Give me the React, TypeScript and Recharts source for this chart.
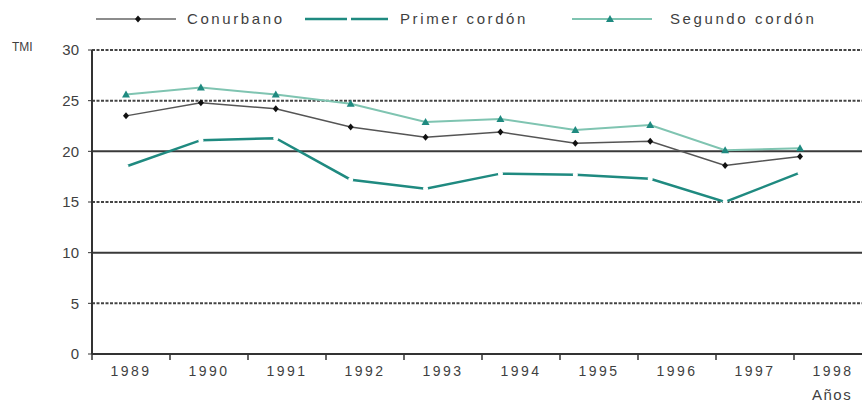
import React from 'react';
import { LineChart, Line, XAxis, YAxis, ReferenceLine } from 'recharts';

const years = ['1989', '1990', '1991', '1992', '1993', '1994', '1995', '1996', '1997', '1998'];
const conurbano = [23.5, 24.8, 24.2, 22.4, 21.4, 21.9, 20.8, 21.0, 18.6, 19.5];
const primerCordon = [18.5, 21.1, 21.3, 17.2, 16.3, 17.8, 17.7, 17.3, 15.0, 17.9];
const segundoCordon = [25.6, 26.3, 25.6, 24.7, 22.9, 23.2, 22.1, 22.6, 20.1, 20.3];

const yTicks = [0, 5, 10, 15, 20, 25, 30];
const solidLevels = [10, 20];
const dashedLevels = [5, 15, 25, 30];

const rows = years.map((year, i) => ({
  year,
  conurbano: conurbano[i],
  primer: primerCordon[i],
  segundo: segundoCordon[i],
}));

const FONT = '"Liberation Sans", Arial, sans-serif';
const TEXT = '#3f3f3f';
const AXIS = '#333';
const TEAL = '#1f8a80';
const PALE = '#7fc4b1';
const HALF_BAND = 39;

const Diamond = (p: any) => (
  <path
    key={p.key}
    d={`M${p.cx},${p.cy - 3.5}L${p.cx + 3},${p.cy}L${p.cx},${p.cy + 3.5}L${p.cx - 3},${p.cy}Z`}
    fill="#111"
  />
);

const Triangle = (p: any) => (
  <path
    key={p.key}
    d={`M${p.cx},${p.cy - 4}L${p.cx + 4},${p.cy + 3}L${p.cx - 4},${p.cy + 3}Z`}
    fill={TEAL}
  />
);

const Gap = (p: any) => <circle key={p.key} cx={p.cx} cy={p.cy} r={2.5} fill="#fff" />;

const YearTick = (p: any) => (
  <g>
    <line x1={p.x - HALF_BAND} x2={p.x - HALF_BAND} y1={p.y} y2={p.y + 6} stroke={AXIS} strokeWidth={1.5} />
    <text
      x={p.x}
      y={p.y + 22}
      textAnchor="middle"
      fill={TEXT}
      fontSize={14}
      fontFamily={FONT}
      letterSpacing={2.5}
    >
      {p.payload.value}
    </text>
  </g>
);

const legendText: React.CSSProperties = {
  position: 'absolute',
  top: 10,
  fontSize: 15,
  letterSpacing: 2.6,
  color: TEXT,
  fontFamily: FONT,
  lineHeight: '18px',
};

function Legend() {
  return (
    <>
      <svg style={{ position: 'absolute', left: 0, top: 0 }} width={862} height={40}>
        <line x1={96} x2={176} y1={19} y2={19} stroke="#666" strokeWidth={1.5} />
        <path d="M138,15.5L141,19L138,22.5L135,19Z" fill="#111" />
        <line x1={305} x2={347} y1={19} y2={19} stroke={TEAL} strokeWidth={2.5} />
        <line x1={351} x2={388} y1={19} y2={19} stroke={TEAL} strokeWidth={2.5} />
        <line x1={572} x2={652} y1={19} y2={19} stroke={PALE} strokeWidth={2} />
        <path d="M610,15L614,22L606,22Z" fill={TEAL} />
      </svg>
      <div style={{ ...legendText, left: 187 }}>Conurbano</div>
      <div style={{ ...legendText, left: 400 }}>Primer cordón</div>
      <div style={{ ...legendText, left: 670 }}>Segundo cordón</div>
    </>
  );
}

export default function App() {
  return (
    <div
      style={{
        position: 'absolute',
        left: 0,
        top: 0,
        width: 862,
        height: 410,
        overflow: 'hidden',
        background: '#fff',
        fontFamily: FONT,
      }}
    >
      <LineChart width={900} height={410} data={rows} margin={{ top: 50, right: 28, bottom: 26, left: 42 }}>
        <XAxis xAxisId="pts" dataKey="year" hide padding={{ left: 34, right: 72 }} />
        <XAxis
          xAxisId="lbl"
          dataKey="year"
          height={30}
          padding={{ left: HALF_BAND, right: HALF_BAND }}
          axisLine={{ stroke: AXIS, strokeWidth: 2 }}
          tickLine={false}
          tickSize={0}
          tickMargin={0}
          interval={0}
          tick={<YearTick />}
        />
        <YAxis
          domain={[0, 30]}
          ticks={yTicks}
          width={50}
          axisLine={{ stroke: AXIS, strokeWidth: 2 }}
          tickLine={{ stroke: AXIS }}
          tickSize={4}
          tickMargin={9}
          tick={{ fill: TEXT, fontSize: 15, fontFamily: FONT }}
        />
        {dashedLevels.map((v) => (
          <ReferenceLine
            key={`d${v}`}
            xAxisId="pts"
            y={v}
            stroke="#444"
            strokeWidth={2}
            strokeDasharray="3 1.5"
          />
        ))}
        {solidLevels.map((v) => (
          <ReferenceLine key={`s${v}`} xAxisId="pts" y={v} stroke="#3a3a3a" strokeWidth={2} />
        ))}
        <Line
          xAxisId="pts"
          dataKey="conurbano"
          stroke="#555"
          strokeWidth={1.5}
          dot={Diamond}
          isAnimationActive={false}
        />
        <Line
          xAxisId="pts"
          dataKey="primer"
          stroke={TEAL}
          strokeWidth={2.5}
          dot={Gap}
          isAnimationActive={false}
        />
        <Line
          xAxisId="pts"
          dataKey="segundo"
          stroke={PALE}
          strokeWidth={2}
          dot={Triangle}
          isAnimationActive={false}
        />
      </LineChart>
      <Legend />
      <div style={{ position: 'absolute', left: 12, top: 40, fontSize: 12, color: TEXT }}>TMI</div>
      <div style={{ position: 'absolute', left: 812, top: 386, fontSize: 15, letterSpacing: 1.5, color: TEXT }}>
        Años
      </div>
    </div>
  );
}
